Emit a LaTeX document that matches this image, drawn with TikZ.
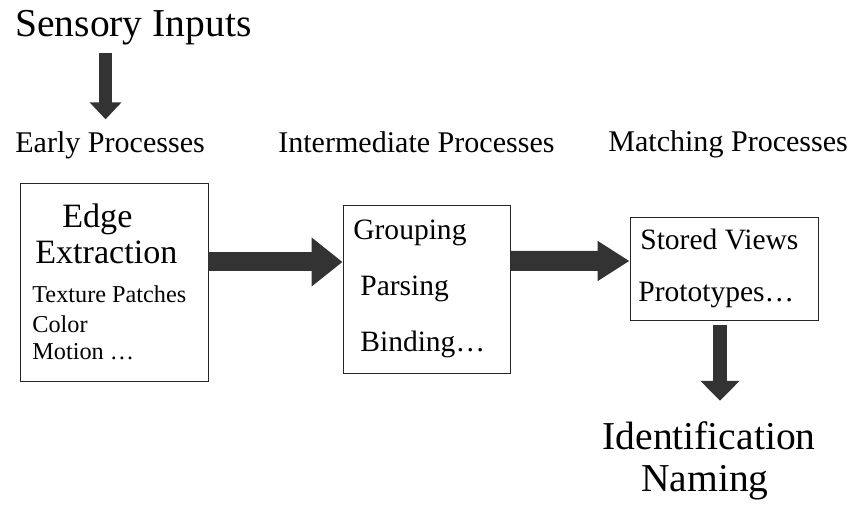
\documentclass[tikz,border=0pt]{standalone}
\usepackage{fontspec}
\setmainfont{LiberationSerif}[Extension=.ttf, UprightFont=*-Regular, BoldFont=*-Bold, ItalicFont=*-Italic]
\usepackage{tikz}
\usetikzlibrary{calc,arrows.meta}

\tikzset{
  lbl/.style={anchor=base west, inner sep=0pt},
  stage/.style={draw=black!85, line width=0.5pt, rectangle, inner sep=0pt},
  fat arrow/.style n args={3}{draw=black!80, line width=#1, -{Triangle[length=#2, width=#3, fill=black!80]}},
}

\begin{document}
\begin{tikzpicture}
        \useasboundingbox (0,0) rectangle (16.96,-10.14);

        \node [lbl, font=\fontsize{22.5}{27}\selectfont] (sensory) at (0.30,-0.74) {Sensory Inputs};

        \node [lbl, font=\fontsize{17.1}{20}\selectfont] (early) at (0.30,-3.06) {Early Processes};
        \node [lbl, font=\fontsize{17.1}{20}\selectfont] (inter) at (5.56,-3.06) {Intermediate Processes};
        \node [lbl, font=\fontsize{17.1}{20}\selectfont] (match) at (12.16,-3.04) {Matching Processes};

        \node [stage, minimum width=3.76cm, minimum height=3.96cm] (box1) at (2.28,-5.64) {};
        \node [stage, minimum width=3.34cm, minimum height=3.36cm] (box2) at (8.53,-5.78) {};
        \node [stage, minimum width=3.76cm, minimum height=2.06cm] (box3) at (14.48,-5.37) {};

        \node [lbl, font=\fontsize{19.4}{23}\selectfont] (edge) at (1.24,-4.56) {Edge};
        \node [lbl, font=\fontsize{19.4}{23}\selectfont] (extract) at (0.70,-5.28) {Extraction};
        \node [lbl, font=\fontsize{13.8}{16}\selectfont] (texture) at (0.64,-6.06) {Texture Patches};
        \node [lbl, font=\fontsize{13.8}{16}\selectfont] (color) at (0.64,-6.66) {Color};
        \node [lbl, font=\fontsize{13.8}{16}\selectfont] (motion) at (0.64,-7.20) {Motion \ldots};

        \node [lbl, font=\fontsize{16.8}{20}\selectfont] (group) at (7.06,-4.80) {Grouping};
        \node [lbl, font=\fontsize{16.8}{20}\selectfont] (parse) at (7.20,-5.92) {Parsing};
        \node [lbl, font=\fontsize{16.8}{20}\selectfont] (bind) at (7.20,-7.04) {Binding\ldots};

        \node [lbl, font=\fontsize{16.8}{20}\selectfont] (stored) at (12.80,-5.00) {Stored Views};
        \node [lbl, font=\fontsize{16.8}{20}\selectfont] (proto) at (12.76,-6.04) {Prototypes\ldots};

        \node [anchor=base, inner sep=0pt, font=\fontsize{22.5}{27}\selectfont] (ident) at (14.18,-9.00) {Identification};
        \node [anchor=base, inner sep=0pt, font=\fontsize{22.5}{27}\selectfont] (naming) at (14.10,-9.84) {Naming};

        % thick arrows between the stages
        \draw [fat arrow={0.26cm}{0.34cm}{0.62cm}, shorten <=0.14cm, shorten >=0.25cm]
            ([xshift=-0.09cm]early.north |- sensory.south) -- ([xshift=-0.09cm]early.north);
        \draw [fat arrow={0.38cm}{0.62cm}{0.94cm}] ([yshift=0.40cm]box1.east) -- ([yshift=0.54cm]box2.west);
        \draw [fat arrow={0.40cm}{0.64cm}{0.76cm}] ([yshift=0.56cm]box2.east) -- ([yshift=0.15cm]box3.west);
        \draw [fat arrow={0.28cm}{0.40cm}{0.76cm}, shorten <=0.1cm, shorten >=0.42cm]
            ([xshift=-0.08cm]box3.south) -- ([xshift=-0.08cm]box3.south |- ident.north);
\end{tikzpicture}
\end{document}
